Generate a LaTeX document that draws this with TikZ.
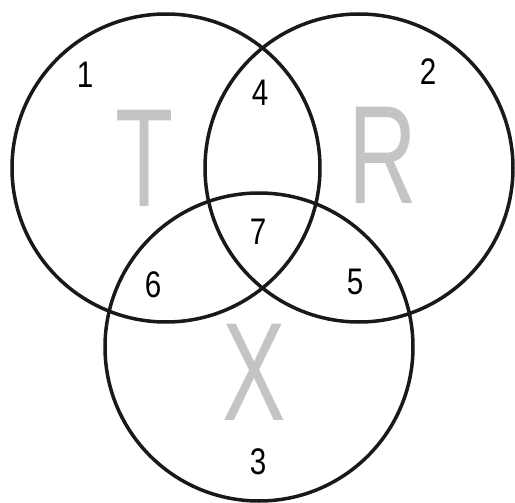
\documentclass[tikz,border=0pt]{standalone}
\usepackage{fontspec}
\setmainfont{Liberation Sans}
\usepackage{tikz}
\usetikzlibrary{positioning}
\definecolor{ringblack}{RGB}{25, 25, 25}
\definecolor{lettergray}{RGB}{196, 196, 196}

\begin{document}
\begin{tikzpicture}[x=1pt, y=-1pt,
    ring/.style={line width=3.5pt, ringblack},
    regionnum/.style={inner sep=0pt, xscale=0.8, font=\fontsize{37}{37}\selectfont},
    setname/.style={inner sep=0pt, xscale=0.68, text=lettergray, font=\fontsize{140}{140}\selectfont}]
    \useasboundingbox (0,0) rectangle (515,503);

    % Circles
    \coordinate (cT) at (166,168);
    \coordinate (cR) at (359,168);
    \coordinate (cX) at (259,347);
    \draw[ring] (cT) circle (154);
    \draw[ring] (cR) circle (154);
    \draw[ring] (cX) circle (154);

    % Set names
    \node[setname] (nameT) at (145,158) {T};
    \node[setname] (nameR) at (383,155) {R};
    \node[setname] (nameX) at (254,372) {X};

    % Regions
    \node[regionnum] (r1) at (85,75) {1};
    \node[regionnum] (r2) at (428,72) {2};
    \node[regionnum] (r3) at (258,462) {3};
    \node[regionnum] (r4) at (260,93) {4};
    \node[regionnum] (r5) at (355,282) {5};
    \node[regionnum] (r6) at (153,285) {6};
    \node[regionnum] (r7) at (258,232) {7};
\end{tikzpicture}
\end{document}
